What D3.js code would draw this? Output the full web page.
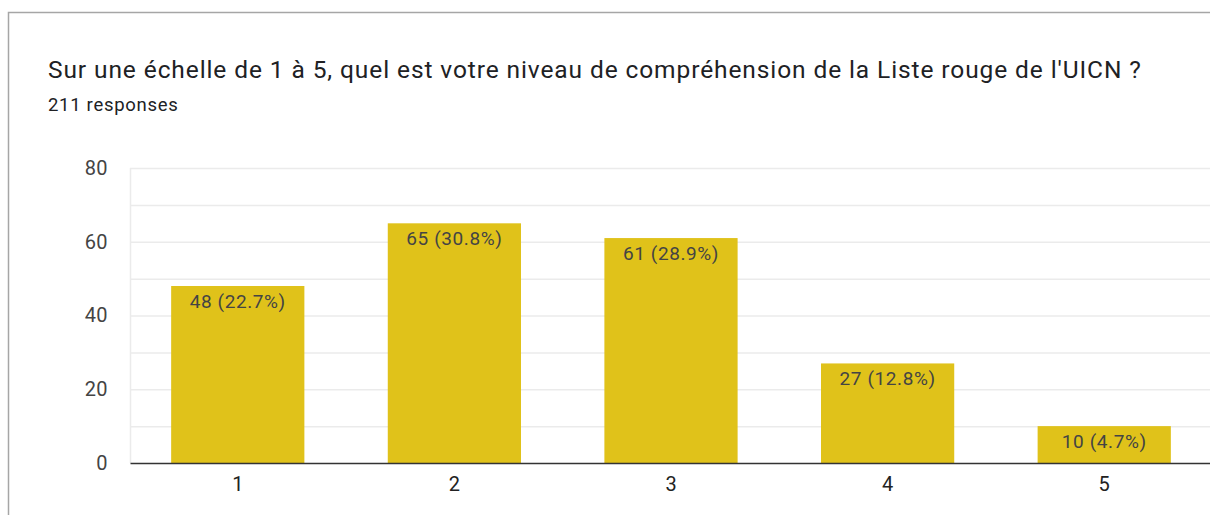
<!DOCTYPE html>
<html>
<head>
<meta charset="utf-8">
<script src="https://cdn.jsdelivr.net/npm/d3@7"></script>
<style>
  body { margin: 0; background: #fff; font-family: Roboto, Arial, sans-serif; }
</style>
</head>
<body>
<div class="chart"></div>
<script>
// Data
var categories = ["1", "2", "3", "4", "5"];
var counts = [48, 65, 61, 27, 10];
var percents = ["22.7%", "30.8%", "28.9%", "12.8%", "4.7%"];
var yTicks = [0, 20, 40, 60, 80];
var yMinorTicks = [10, 30, 50, 70];
var titleText = "Sur une échelle de 1 à 5, quel est votre niveau de compréhension de la Liste rouge de l'UICN ?";
var subtitleText = "211 responses";

var svgWidth = 1210;
var svgHeight = 515;

var margin = { top: 168, right: -2, bottom: 52, left: 130 };
var width = svgWidth - margin.left - margin.right;
var height = svgHeight - margin.top - margin.bottom;

var svg = d3.select(".chart")
  .append("svg")
  .attr("width", svgWidth)
  .attr("height", svgHeight);

// card border (top + left)
svg.append("path")
  .attr("d", "M8.5,515 L8.5,12.5 L1210,12.5")
  .attr("fill", "none")
  .attr("stroke", "#a6a6a6")
  .attr("stroke-width", 1.5);

svg.append("text")
  .attr("x", 48)
  .attr("y", 77.5)
  .attr("font-size", 24.5)
  .attr("letter-spacing", 0.9)
  .attr("fill", "#202124")
  .text(titleText);

svg.append("text")
  .attr("x", 48)
  .attr("y", 110.5)
  .attr("font-size", 18.5)
  .attr("letter-spacing", 0.7)
  .attr("fill", "#202124")
  .text(subtitleText);

var chartGroup = svg.append("g")
  .attr("transform", `translate(${margin.left}, ${margin.top})`);

var xScale = d3.scaleBand()
  .domain(categories)
  .range([0, width])
  .paddingInner(0.385)
  .paddingOuter(0.19);

var yScale = d3.scaleLinear()
  .domain([0, 80])
  .range([height, 0]);

// gridlines
chartGroup.append("g")
  .selectAll("line")
  .data(yMinorTicks.concat(yTicks.slice(1)))
  .enter()
  .append("line")
  .attr("x1", 0)
  .attr("x2", width)
  .attr("y1", d => yScale(d) + 0.5)
  .attr("y2", d => yScale(d) + 0.5)
  .attr("stroke", "#ebebeb")
  .attr("stroke-width", 1.5);

chartGroup.append("line")
  .attr("x1", 0.5).attr("x2", 0.5)
  .attr("y1", yScale(80)).attr("y2", height)
  .attr("stroke", "#ebebeb")
  .attr("stroke-width", 1.5);

// y axis labels
var leftAxis = d3.axisLeft(yScale).tickValues(yTicks).tickSize(0).tickPadding(22);
var yAxisG = chartGroup.append("g").call(leftAxis);
yAxisG.select(".domain").remove();
yAxisG.selectAll("text")
  .attr("font-family", "Roboto, Arial, sans-serif")
  .attr("font-size", 20)
  .attr("letter-spacing", 0.4)
  .attr("fill", "#444");

// bars
chartGroup.selectAll("rect.bar")
  .data(counts)
  .enter()
  .append("rect")
  .attr("class", "bar")
  .attr("x", (d, i) => xScale(categories[i]))
  .attr("y", d => yScale(d))
  .attr("width", xScale.bandwidth())
  .attr("height", d => height - yScale(d))
  .attr("fill", "#e0c21a");

// bar labels
chartGroup.selectAll("text.val")
  .data(counts)
  .enter()
  .append("text")
  .attr("class", "val")
  .attr("x", (d, i) => xScale(categories[i]) + xScale.bandwidth() / 2)
  .attr("y", d => yScale(d) + 22)
  .attr("text-anchor", "middle")
  .attr("font-size", 19)
  .attr("letter-spacing", 0.6)
  .attr("fill", "#444")
  .text((d, i) => `${d} (${percents[i]})`);

// x axis
var bottomAxis = d3.axisBottom(xScale).tickSize(0).tickPadding(14);
var xAxisG = chartGroup.append("g")
  .attr("transform", `translate(0, ${height})`)
  .call(bottomAxis);
xAxisG.select(".domain")
  .attr("stroke", "#333")
  .attr("stroke-width", 1.5);
xAxisG.selectAll("text")
  .attr("font-family", "Roboto, Arial, sans-serif")
  .attr("font-size", 20)
  .attr("fill", "#222");
</script>
</body>
</html>
